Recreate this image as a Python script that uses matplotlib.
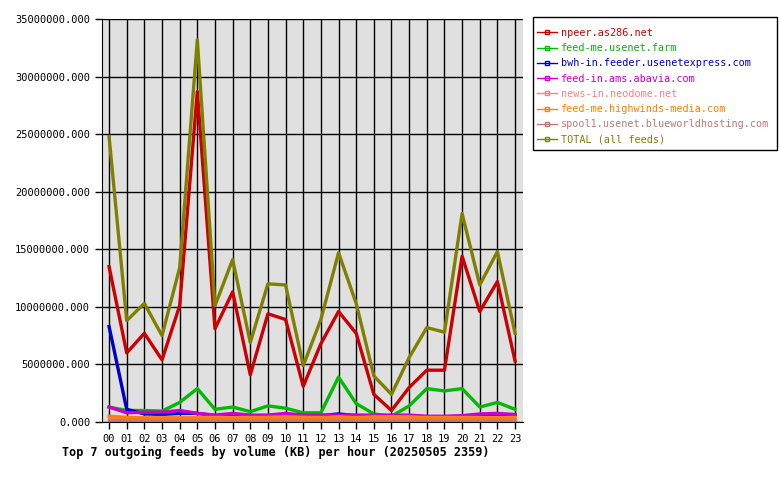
import matplotlib
matplotlib.use('Agg')
import matplotlib.pyplot as plt
from matplotlib.patches import Rectangle
import numpy as np

hours = ['%02d' % h for h in range(24)]

feeds = ['npeer.as286.net', 'feed-me.usenet.farm', 'bwh-in.feeder.usenetexpress.com',
         'feed-in.ams.abavia.com', 'news-in.neodome.net', 'feed-me.highwinds-media.com',
         'spool1.usenet.blueworldhosting.com', 'TOTAL (all feeds)']
colors = ['#cc0000', '#00bb00', '#0000cc', '#cc00cc', '#ff8080', '#ff8000', '#c07878', '#808000']

# values in millions of KB
npeer = [13.5, 6.0, 7.7, 5.4, 10.1, 28.7, 8.1, 11.3, 4.1, 9.4, 8.9, 3.1,
         6.8, 9.6, 7.7, 2.4, 1.0, 3.0, 4.5, 4.5, 14.4, 9.6, 12.2, 5.3]
usenetfarm = [1.3, 1.0, 1.0, 0.95, 1.7, 2.9, 1.1, 1.3, 0.9, 1.4, 1.2, 0.8,
              0.8, 3.9, 1.6, 0.7, 0.5, 1.4, 2.9, 2.7, 2.9, 1.3, 1.7, 1.1]
bwh = [8.3, 1.1, 0.7, 0.65, 0.75, 0.75, 0.55, 0.55, 0.5, 0.5, 0.6, 0.55,
       0.55, 0.7, 0.55, 0.5, 0.5, 0.5, 0.45, 0.45, 0.5, 0.55, 0.55, 0.55]
abavia = [1.3, 0.8, 0.85, 0.85, 1.0, 0.75, 0.6, 0.75, 0.6, 0.6, 0.75, 0.6,
          0.6, 0.6, 0.6, 0.6, 0.6, 0.6, 0.5, 0.5, 0.55, 0.7, 0.75, 0.65]
neodome = [0.4, 0.4, 0.4, 0.4, 0.4, 0.4, 0.4, 0.4, 0.4, 0.4, 0.4, 0.4,
           0.4, 0.4, 0.4, 0.4, 0.4, 0.4, 0.4, 0.4, 0.4, 0.4, 0.4, 0.4]
highwinds = [0.5, 0.4, 0.35, 0.35, 0.35, 0.35, 0.35, 0.35, 0.35, 0.4, 0.45, 0.4,
             0.35, 0.45, 0.35, 0.45, 0.45, 0.45, 0.35, 0.35, 0.35, 0.35, 0.35, 0.35]
spool1 = [0.2, 0.2, 0.2, 0.2, 0.2, 0.2, 0.2, 0.2, 0.2, 0.2, 0.2, 0.2,
          0.2, 0.2, 0.2, 0.2, 0.2, 0.2, 0.2, 0.2, 0.2, 0.2, 0.2, 0.2]
total = [24.8, 8.8, 10.3, 7.5, 13.4, 33.2, 10.1, 14.1, 6.9, 12.0, 11.9, 4.9,
         8.9, 14.7, 10.3, 4.0, 2.4, 5.6, 8.2, 7.8, 18.1, 11.9, 14.8, 7.7]

series = [npeer, usenetfarm, bwh, abavia, neodome, highwinds, spool1, total]

plt.rcParams['font.family'] = 'DejaVu Sans Mono'
fig = plt.figure(figsize=(7.8, 4.8), dpi=100)
ax = fig.add_axes([102/780, 58/480, 421/780, 403/480])
ax.set_facecolor('#e0e0e0')

x = np.arange(24)
for name, vals, c in zip(feeds, series, colors):
    ax.plot(x, np.array(vals) * 1e6, color=c, lw=2.4, label=name)

ax.set_xlim(-0.4, 23.45)
ax.set_ylim(0, 35e6)
ax.set_xticks(x)
ax.set_xticklabels(hours)
yt = np.arange(0, 35e6 + 1, 5e6)
ax.set_yticks(yt)
ax.set_yticklabels(['%.3f' % v for v in yt])
ax.tick_params(labelsize=7.5, length=5, width=1, colors='black')
ax.grid(True, color='black', lw=1)
ax.set_axisbelow(True)
for s in ['top', 'right']:
    ax.spines[s].set_visible(False)

# legend box
fig.patches.append(Rectangle((533/780, 1 - 150/480), 244/780, 133/480,
                             transform=fig.transFigure, fill=False,
                             edgecolor='black', lw=1))
handles = [plt.Line2D([], [], color=c, lw=1, marker='s', markersize=2.5,
                      markerfacecolor='none', markeredgecolor=c) for c in colors]
leg = fig.legend(handles, feeds, loc='upper left', bbox_to_anchor=(537/780, 1 - 28/480),
                 prop={'size': 7.25}, frameon=False, handlelength=2.0,
                 handletextpad=0.35, borderpad=0, labelspacing=0.52, borderaxespad=0)
for t, c in zip(leg.get_texts(), colors):
    t.set_color(c)

fig.text(62/780, 1 - 452/480, 'Top 7 outgoing feeds by volume (KB) per hour (20250505 2359)',
         fontsize=8.45, fontweight='bold', va='center', ha='left')

fig.savefig('out.png', dpi=100)
